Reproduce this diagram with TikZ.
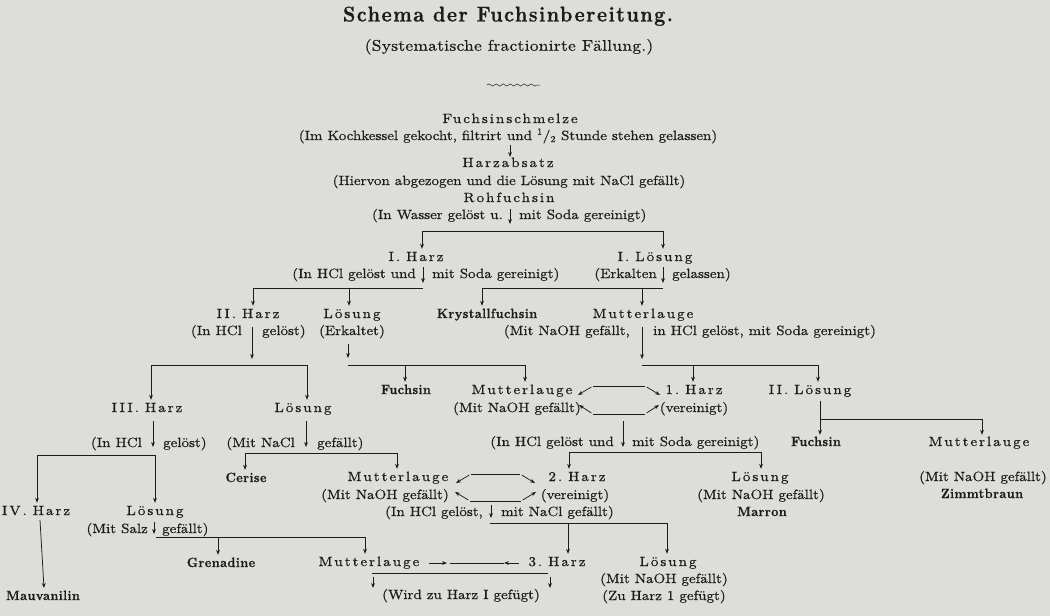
\documentclass[tikz,border=0pt]{standalone}
\usepackage{fontspec}
\setmainfont{lmroman10}[Extension=.otf,UprightFont=*-regular,BoldFont=*-bold,ItalicFont=*-italic,BoldItalicFont=*-bolditalic]
\usetikzlibrary{arrows.meta,decorations.pathmorphing}
\definecolor{paper}{RGB}{221,221,219}
\definecolor{ink}{RGB}{28,28,28}
\newcommand\fbody{\fontsize{13.4}{15}\selectfont\addfontfeatures{FakeStretch=1.12,FakeBold=0.6}}
\newcommand\fhead{\fontsize{13.4}{15}\selectfont\addfontfeatures{FakeStretch=1.12,FakeBold=0.6,LetterSpace=15}}
\newcommand\fbold{\fontsize{13.4}{15}\selectfont\bfseries\addfontfeatures{FakeStretch=0.93,FakeBold=0.5,LetterSpace=3}}
\newcommand\ftitle{\fontsize{21.5}{24}\selectfont\bfseries\addfontfeatures{FakeStretch=0.9,FakeBold=0.5,LetterSpace=7}}
\newcommand\fsub{\fontsize{15.5}{18}\selectfont\addfontfeatures{FakeStretch=1.12,FakeBold=0.5,LetterSpace=2}}
\newcommand\nsp{\kern6pt}
\begin{document}
\begin{tikzpicture}[x=1pt,y=-1pt,
  txt/.style={inner sep=0pt,text height=9pt,text depth=3pt,font=\fbody,text=ink},
  hd/.style={txt,font=\fhead},
  bd/.style={txt,font=\fbold},
  ln/.style={draw=ink,line width=.75pt},
  arr/.style={ln,-{Stealth[length=5pt,width=3.8pt]}}]
\fill[paper] (0,0) rectangle (1050,616);
\useasboundingbox (0,0) rectangle (1050,616);

% ---------- title ----------
\node[txt,font=\ftitle,text height=15pt,text depth=4pt] (title) at (508,16) {Schema der Fuchsinbereitung.};
\node[txt,font=\fsub,text height=11pt,text depth=3.5pt] (sub) at (509,47) {(Systematische fractionirte Fällung.)};
\draw[ln,line width=.5pt,decorate,decoration={snake,amplitude=1.1pt,segment length=7pt}] (487,85) -- (540,85);

% ---------- top chain ----------
\node[hd] (fs) at (510,120) {Fuchsinschmelze};
\node[txt] (fsa) at (508,137) {(Im Kochkessel gekocht, filtrirt und \textsuperscript{1}/\textsubscript{2} Stunde stehen gelassen)};
\node[hd] (ha) at (508,164) {Harzabsatz};
\node[txt] (haa) at (509,182) {(Hiervon abgezogen und die Lösung mit NaCl gefällt)};
\node[hd] (rf) at (509,199) {Rohfuchsin};
\node[txt,anchor=east] (rfL) at (503,216) {(In Wasser gelöst u.};
\node[txt,anchor=west] (rfR) at (519,216) {mit Soda gereinigt)};
\coordinate (a0s) at (510,145); \coordinate (a0e) at (510,157);
\draw[arr] (a0s) -- (a0e);

\coordinate (g0) at (510,209);
\coordinate (b1L) at (422,231); \coordinate (b1R) at (663,231);
\draw[arr,shorten >=7pt] (g0) -- (g0 |- b1L);
\draw[ln] (b1L) -- (b1R);

% ---------- I. Harz / I. Loesung ----------
\node[hd] (h1) at (416,258) {I.\nsp Harz};
\node[hd] (l1) at (655,258) {I.\nsp Lösung};
\draw[arr,shorten >=3pt] (b1L) -- (b1L |- h1.north);
\draw[arr,shorten >=3pt] (b1R) -- (b1R |- l1.north);
\node[txt,anchor=east] (h1aL) at (416,275) {(In HCl gelöst und};
\node[txt,anchor=west] (h1aR) at (432,275) {mit Soda gereinigt)};
\node[txt,anchor=east] (l1aL) at (657,275) {(Erkalten};
\node[txt,anchor=west] (l1aR) at (672,275) {gelassen)};
\coordinate (g1) at (423,267); \coordinate (g2) at (663,267);
\coordinate (b2aL) at (253,288); \coordinate (b2aR) at (423,288);
\coordinate (b2bL) at (482,288); \coordinate (b2bR) at (663,288);
\coordinate (d1) at (349,288); \coordinate (d2) at (642,288);
\draw[arr,shorten >=5pt] (g1) -- (b2aR);
\draw[arr,shorten >=5pt] (g2) -- (b2bR);
\draw[ln] (b2aL) -- (b2aR);
\draw[ln] (b2bL) -- (b2bR);

% ---------- row 315 ----------
\node[hd] (h2) at (248,315) {II.\nsp Harz};
\node[hd] (l2) at (352,315) {Lösung};
\node[bd] (kf) at (487,315) {Krystallfuchsin};
\node[hd] (m1) at (643,315) {Mutterlauge};
\draw[arr,shorten >=3pt] (b2aL) -- (b2aL |- h2.north);
\draw[arr,shorten >=3pt] (d1) -- (d1 |- l2.north);
\draw[arr,shorten >=3pt] (b2bL) -- (b2bL |- kf.north);
\draw[arr,shorten >=3pt] (d2) -- (d2 |- m1.north);
\node[txt,anchor=east] (h2aL) at (242,332) {(In HCl};
\node[txt,anchor=west] (h2aR) at (262,332) {gelöst)};
\node[txt] (l2a) at (352,332) {(Erkaltet)};
\node[txt,anchor=east] (m1aL) at (630,332) {(Mit NaOH gefällt,};
\node[txt,anchor=west] (m1aR) at (653,332) {in HCl gelöst, mit Soda gereinigt)};

\coordinate (v1) at (252,327); \coordinate (v2) at (642,327); \coordinate (g3) at (348,344);
\coordinate (b3aL) at (151,365); \coordinate (b3aR) at (307,365);
\coordinate (b3bL) at (348,365); \coordinate (b3bR) at (525,365);
\coordinate (b3cL) at (642,365); \coordinate (b3cR) at (818,365);
\coordinate (d4) at (405,365); \coordinate (d5) at (693,365);
\draw[arr,shorten >=6pt] (v1) -- (v1 |- b3aL);
\draw[arr,shorten >=7pt] (g3) -- (b3bL);
\draw[arr,shorten >=6pt] (v2) -- (b3cL);
\draw[ln] (b3aL) -- (b3aR);
\draw[ln] (b3bL) -- (b3bR);
\draw[ln] (b3cL) -- (b3cR);

% ---------- rows 391 / 409 ----------
\node[bd] (fu1) at (406,391) {Fuchsin};
\node[hd] (m2) at (522,391) {Mutterlauge};
\node[hd] (h3) at (694,391) {1.\nsp Harz};
\node[hd] (l3) at (810,391) {II.\nsp Lösung};
\node[hd] (h4) at (147,409) {III.\nsp Harz};
\node[hd] (l4) at (303,409) {Lösung};
\node[txt] (m2a) at (517,409) {(Mit NaOH gefällt)};
\node[txt] (h3a) at (694,409) {(vereinigt)};
\draw[arr,shorten >=3pt] (b3aL) -- (b3aL |- h4.north);
\draw[arr,shorten >=3pt] (b3aR) -- (b3aR |- l4.north);
\draw[arr,shorten >=3pt] (d4) -- (d4 |- fu1.north);
\draw[arr,shorten >=3pt] (b3bR) -- (b3bR |- m2.north);
\draw[arr,shorten >=3pt] (d5) -- (d5 |- h3.north);
\draw[arr,shorten >=3pt] (b3cR) -- (b3cR |- l3.north);

% cycle 1
\coordinate (c1L) at (593,386); \coordinate (c1R) at (645,386);
\coordinate (c1Lt) at (578,395); \coordinate (c1Rt) at (660,395);
\coordinate (c2L) at (593,414); \coordinate (c2R) at (645,414);
\coordinate (c2Lt) at (579,405); \coordinate (c2Rt) at (659,405);
\draw[ln] (c1L) -- (c1R);
\draw[arr,shorten <=2pt] (c1L) -- (c1Lt);
\draw[arr,shorten <=2pt] (c1R) -- (c1Rt);
\draw[ln] (c2L) -- (c2R);
\draw[arr,shorten <=2pt] (c2L) -- (c2Lt);
\draw[arr,shorten <=2pt] (c2R) -- (c2Rt);

% II. Loesung branch
\node[bd] (fu2) at (816,443) {Fuchsin};
\node[hd] (m3) at (979,443) {Mutterlauge};
\coordinate (v3) at (820,401);
\coordinate (b4L) at (820,419); \coordinate (b4R) at (982,419);
\draw[arr,shorten >=2pt] (v3) -- (v3 |- fu2.north);
\draw[ln] (b4L) -- (b4R);
\draw[arr,shorten >=2pt] (b4R) -- (b4R |- m3.north);

% ---------- row 443 ----------
\node[txt,anchor=east] (h4aL) at (142,444) {(In HCl};
\node[txt,anchor=west] (h4aR) at (163,444) {gelöst)};
\node[txt,anchor=east] (l4aL) at (295,444) {(Mit NaCl};
\node[txt,anchor=west] (l4aR) at (317,444) {gefällt)};
\node[txt,anchor=east] (m2bL) at (614,443) {(In HCl gelöst und};
\node[txt,anchor=west] (m2bR) at (632,443) {mit Soda gereinigt)};
\coordinate (v4) at (153,421); \coordinate (v4e) at (153,447);
\coordinate (v5) at (306,421); \coordinate (v5e) at (306,447);
\coordinate (v6) at (623,421); \coordinate (v6e) at (623,447);
\draw[arr] (v4) -- (v4e);
\draw[arr] (v5) -- (v5e);
\draw[arr] (v6) -- (v6e);

\coordinate (b5aL) at (37,455); \coordinate (b5aR) at (155,455);
\coordinate (b5bL) at (245,453); \coordinate (b5bR) at (397,453);
\coordinate (b5cL) at (569,452); \coordinate (b5cR) at (761,452);
\draw[ln] (b5aL) -- (b5aR);
\draw[ln] (b5bL) -- (b5bR);
\draw[ln] (b5cL) -- (b5cR);

% ---------- rows 478 / 496 ----------
\node[bd] (ce) at (246,479) {Cerise};
\node[hd] (m4) at (398,478) {Mutterlauge};
\node[hd] (h5) at (577,478) {2.\nsp Harz};
\node[hd] (l5) at (760,478) {Lösung};
\node[txt] (m3a) at (983,478) {(Mit NaOH gefällt)};
\node[txt] (m4a) at (385,496) {(Mit NaOH gefällt)};
\node[txt] (h5a) at (575,496) {(vereinigt)};
\node[txt] (l5a) at (761,496) {(Mit NaOH gefällt)};
\node[bd] (zb) at (982,495) {Zimmtbraun};
\draw[arr,shorten >=3pt] (b5bL) -- (b5bL |- ce.north);
\draw[arr,shorten >=3pt] (b5bR) -- (b5bR |- m4.north);
\draw[arr,shorten >=3pt] (b5cL) -- (b5cL |- h5.north);
\draw[arr,shorten >=3pt] (b5cR) -- (b5cR |- l5.north);

% cycle 2
\coordinate (e1L) at (471,474); \coordinate (e1R) at (520,474);
\coordinate (e1Lt) at (456,483); \coordinate (e1Rt) at (535,483);
\coordinate (e2L) at (470,501); \coordinate (e2R) at (521,501);
\coordinate (e2Lt) at (455,492); \coordinate (e2Rt) at (536,492);
\draw[ln] (e1L) -- (e1R);
\draw[arr,shorten <=2pt] (e1L) -- (e1Lt);
\draw[arr,shorten <=2pt] (e1R) -- (e1Rt);
\draw[ln] (e2L) -- (e2R);
\draw[arr,shorten <=2pt] (e2L) -- (e2Lt);
\draw[arr,shorten <=2pt] (e2R) -- (e2Rt);

% ---------- rows 512 / 530 ----------
\node[hd] (h6) at (36,512) {IV.\nsp Harz};
\node[hd] (l6) at (155,512) {Lösung};
\draw[arr,shorten >=3pt] (b5aL) -- (b5aL |- h6.north);
\draw[arr,shorten >=3pt] (b5aR) -- (b5aR |- l6.north);
\node[txt,anchor=east] (m4bL) at (483,513) {(In HCl gelöst,};
\node[txt,anchor=west] (m4bR) at (501,513) {mit NaCl gefällt)};
\node[bd] (ma) at (762,513) {Marron};
\node[txt,anchor=east] (l6aL) at (148,530) {(Mit Salz};
\node[txt,anchor=west] (l6aR) at (162,530) {gefällt)};
\coordinate (g5) at (491,505); \coordinate (g6) at (154,522);
\coordinate (b6L) at (490,523); \coordinate (b6R) at (667,523); \coordinate (d6) at (568,523);
\coordinate (b7L) at (156,537); \coordinate (b7R) at (365,537); \coordinate (d7) at (218,537);
\draw[arr,shorten >=5pt] (g5) -- (g5 |- b6L);
\draw[arr,shorten >=3pt] (g6) -- (g6 |- b7L);
\draw[ln] (b6L) -- (b6R);
\draw[ln] (b7L) -- (b7R);

% ---------- row 563 ----------
\node[bd] (gr) at (221,564) {Grenadine};
\node[hd] (m5) at (369,563) {Mutterlauge};
\node[hd] (h7) at (557,563) {3.\nsp Harz};
\node[hd] (l7) at (668,563) {Lösung};
\draw[arr,shorten >=3pt] (d6) -- (d6 |- h7.north);
\draw[arr,shorten >=3pt] (b6R) -- (b6R |- l7.north);
\draw[arr,shorten >=3pt] (d7) -- (d7 |- gr.north);
\draw[arr,shorten >=3pt] (b7R) -- (b7R |- m5.north);
\coordinate (k1) at (429,563); \coordinate (k2) at (447,563);
\coordinate (k3) at (450,563); \coordinate (k4) at (504,563);
\coordinate (k5) at (519,563);
\draw[arr] (k1) -- (k2);
\draw[ln] (k3) -- (k4);
\draw[arr] (k5) -- (k4);
\coordinate (b8L) at (372,573); \coordinate (b8R) at (548,573);
\draw[ln] (b8L) -- (b8R);
\coordinate (s1) at (373,577); \coordinate (s1e) at (373,588);
\coordinate (s2) at (550,577); \coordinate (s2e) at (550,588);
\draw[arr] (s1) -- (s1e);
\draw[arr] (s2) -- (s2e);
\node[txt] (wz) at (461,596) {(Wird zu Harz I gefügt)};
\node[txt] (l7a) at (664,580) {(Mit NaOH gefällt)};
\node[txt] (l7b) at (664,597) {(Zu Harz 1 gefügt)};

% IV. Harz -> Mauvanilin
\node[bd] (mv) at (43,597) {Mauvanilin};
\coordinate (w1) at (40,520); \coordinate (w2) at (44,588);
\draw[arr] (w1) -- (w2);
\end{tikzpicture}
\end{document}
